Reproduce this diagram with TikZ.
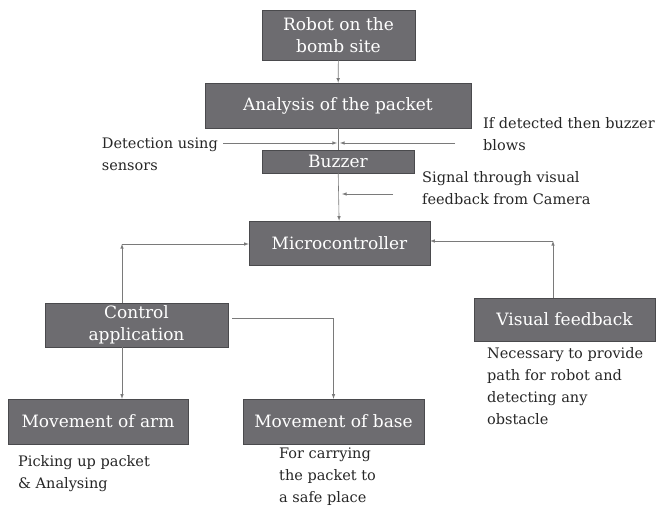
\documentclass[tikz,border=0pt]{standalone}
\usepackage{fontspec}
\setmainfont{DejaVu Serif}
\usepackage{tikz}
\usetikzlibrary{calc,positioning,arrows}

\definecolor{boxgray}{HTML}{6D6C70}
\definecolor{edgegray}{HTML}{4A4A4D}
\definecolor{linegray}{HTML}{7A7A7A}
\definecolor{txtgray}{HTML}{262626}

\tikzset{
  block/.style={draw=edgegray, fill=boxgray, text=white, align=center,
    inner sep=0pt, font=\fontsize{17}{22}\selectfont},
  note/.style={text=txtgray, align=left, inner sep=0pt,
    font=\fontsize{14.5}{22}\selectfont},
  link/.style={draw=linegray, semithick, >=latex}
}

\begin{document}
\begin{tikzpicture}[x=1pt,y=-1pt]
\useasboundingbox (0,0) rectangle (659,511);

% Main chain
\node[block, minimum width=153pt, minimum height=50pt] (robot) at (338.5,35) {Robot on the\\bomb site};
\node[block, minimum width=266pt, minimum height=45pt] (analysis) at (338,105.5) {Analysis of the packet};
\node[block, minimum width=152pt, minimum height=23pt] (buzzer) at (338,161.5) {Buzzer};
\node[block, minimum width=181pt, minimum height=44pt] (micro) at (339.5,243) {Microcontroller};

% Lower row
\node[block, minimum width=183pt, minimum height=44pt] (ctrl) at (136.5,325) {Control\\application};
\node[block, minimum width=181pt, minimum height=43pt] (visual) at (564.5,319.5) {Visual feedback};
\node[block, minimum width=180pt, minimum height=45pt] (arm) at (98,421.5) {Movement of arm};
\node[block, minimum width=181pt, minimum height=45pt] (base) at (333.5,421.5) {Movement of base};

% Side notes
\node[note, anchor=north east] (detect) at (218,138) {Detection using\\sensors};
\node[note, anchor=north west] (blows) at (483,117) {If detected then buzzer\\blows};
\node[note, anchor=north west] (signal) at (422,171) {Signal through visual\\feedback from Camera};
\node[note, anchor=north west] (pick) at (18,455) {Picking up packet\\\& Analysing};
\node[note, anchor=north west] (carry) at (279,448) {For carrying\\the packet to\\a safe place};
\node[note, anchor=north west] (need) at (487,347) {Necessary to provide\\path for robot and\\detecting any\\obstacle};

% Free ends and corners
\coordinate (dl) at (223,143);
\coordinate (dm) at (337,143);
\coordinate (br) at (455,143);
\coordinate (bm) at (340,143);
\coordinate (sr) at (393,194);
\coordinate (sm) at (342,194);
\coordinate (cc) at (122,244);
\coordinate (vc) at (553,241);

% Connectors
\draw[link,->] (robot) -- (analysis);
\draw[link] (analysis) -- (buzzer);
\draw[link,->] (dl) -- (dm);
\draw[link,->] (br) -- (bm);
\draw[link,->] (buzzer) -- (micro);
\draw[link,->] (sr) -- (sm);

\draw[link,->] (ctrl.north -| cc) -- (cc);
\draw[link,->] (cc) -- (cc -| micro.west);
\draw[link,->] (visual.north -| vc) -- (vc);
\draw[link,->] (vc) -- (vc -| micro.east);

\draw[link,->] (ctrl.south -| cc) -- (arm.north -| cc);
\draw[link,->] ([xshift=4pt,yshift=7pt]ctrl.east) -| (base.north);
\end{tikzpicture}
\end{document}
